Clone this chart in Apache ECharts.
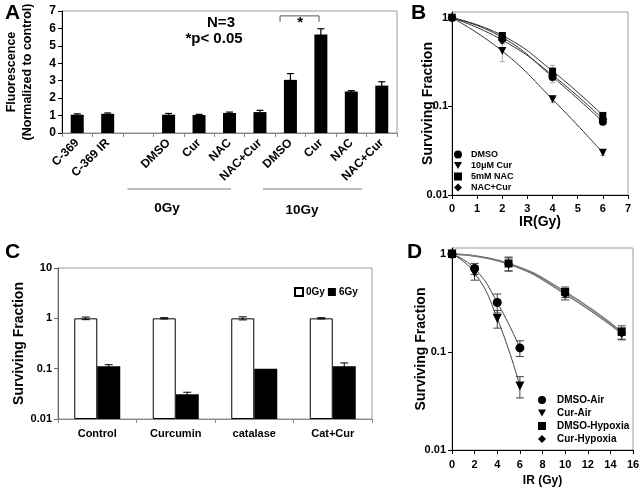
<!DOCTYPE html>
<html><head><meta charset="utf-8">
<script src="https://cdn.jsdelivr.net/npm/echarts@6/dist/echarts.min.js"></script>
<style>html,body{margin:0;padding:0;background:#fff}#c{width:644px;height:491px}</style>
</head><body><div id="c"></div>
<script>
// ---------- Panel A ----------
const aCategories = ['C-369', 'C-369 IR', '', 'DMSO', 'Cur', 'NAC', 'NAC+Cur', 'DMSO', 'Cur', 'NAC', 'NAC+Cur'];
const aValues = [1.05, 1.1, null, 1.05, 1.03, 1.15, 1.2, 3.05, 5.65, 2.38, 2.72];
const aErrors = [0.05, 0.05, null, 0.07, 0.04, 0.05, 0.1, 0.36, 0.33, 0.05, 0.22];
// ---------- Panel B ----------
const bDoses = [0, 2, 4, 6];
const bDMSO = [1, 0.6, 0.215, 0.067];
const bCur = [1, 0.42, 0.12, 0.03];
const bNAC = [1, 0.63, 0.25, 0.079];
const bNACCur = [1, 0.56, 0.225, 0.072];
const bErrDMSO = [0, 0.05, 0.03, 0.005];
const bErrCur = [0, 0.1, 0.01, 0.002];
const bErrNAC = [0, 0.05, 0.04, 0.006];
const bErrNACCur = [0, 0.05, 0.03, 0.005];
// ---------- Panel C ----------
const cCategories = ['Control', 'Curcumin', 'catalase', 'Cat+Cur'];
const c0Gy = [1, 1, 1, 1];
const c0GyErr = [0.06, 0.03, 0.07, 0.03];
const c6Gy = [0.112, 0.031, 0.1, 0.112];
const c6GyErr = [0.008, 0.003, 0, 0.018];
// ---------- Panel D ----------
const dDosesAir = [0, 2, 4, 6];
const dDMSOAir = [1, 0.71, 0.32, 0.11];
const dDMSOAirErr = [0, 0.09, 0.07, 0.02];
const dCurAir = [1, 0.64, 0.22, 0.045];
const dCurAirErr = [0, 0.1, 0.045, 0.011];
const dDosesHyp = [0, 5, 10, 15];
const dDMSOHyp = [1, 0.8, 0.41, 0.16];
const dDMSOHypErr = [0, 0.13, 0.05, 0.025];
const dCurHyp = [1, 0.79, 0.39, 0.155];
const dCurHypErr = [0, 0.12, 0.05, 0.022];

const F = '"Liberation Sans", Arial, sans-serif';
const T = (size) => ({ fontFamily: F, fontWeight: 'bold', fontSize: size, color: '#000' });
const DOWN_TRI = 'path://M0,0L10,0L5,9Z';

function pairs(xs, ys) { return xs.map((x, i) => [x, ys[i]]); }

function errSeries(xi, yi, xs, vals, errs, o) {
  const data = [];
  for (let i = 0; i < vals.length; i++) {
    if (vals[i] == null || !errs[i]) continue;
    data.push([xs ? xs[i] : i, vals[i] - errs[i], vals[i] + errs[i]]);
  }
  return {
    type: 'custom', xAxisIndex: xi, yAxisIndex: yi, z: o.z || 5, silent: true,
    data: data, encode: { x: 0, y: [1, 2] },
    renderItem: function (params, api) {
      const x = api.value(0);
      const top = api.coord([x, api.value(2)]);
      const bot = api.coord([x, api.value(1)]);
      const cx = top[0] + (o.offset || 0);
      const hw = o.cap / 2;
      const style = { stroke: o.color, lineWidth: o.width || 1 };
      return { type: 'group', children: [
        { type: 'line', shape: { x1: cx, y1: top[1], x2: cx, y2: bot[1] }, style: style },
        { type: 'line', shape: { x1: cx - hw, y1: top[1], x2: cx + hw, y2: top[1] }, style: style },
        { type: 'line', shape: { x1: cx - hw, y1: bot[1], x2: cx + hw, y2: bot[1] }, style: style }
      ] };
    }
  };
}

function lineSeries(name, xi, yi, xs, ys, symbol, size, color, width) {
  return {
    name: name, type: 'line', xAxisIndex: xi, yAxisIndex: yi, data: pairs(xs, ys),
    smooth: true, symbol: symbol, symbolSize: size, showSymbol: true, z: 6,
    lineStyle: { color: color, width: width }, itemStyle: { color: '#000' }
  };
}

const frame = { show: true, borderColor: '#999', borderWidth: 1, outerBoundsMode: 'none', containLabel: false };
const C_BAR_W = 23;

const option = {
  animation: false,
  backgroundColor: '#fff',
  textStyle: { fontFamily: F },
  grid: [
    Object.assign({ left: 62, top: 11, width: 335, height: 122 }, frame),
    Object.assign({ left: 452, top: 12, width: 176, height: 183 }, frame),
    Object.assign({ left: 58, top: 268, width: 314, height: 151 }, frame),
    Object.assign({ left: 452, top: 248, width: 181, height: 202 }, frame)
  ],
  legend: [
    { data: [{ name: 'DMSO', icon: 'circle' }, { name: '10μM Cur', icon: DOWN_TRI }, { name: '5mM NAC', icon: 'rect' }, { name: 'NAC+Cur', icon: 'diamond' }],
      orient: 'vertical', left: 454, top: 150, padding: 0, itemWidth: 8, itemHeight: 8, itemGap: 2, selectedMode: false,
      textStyle: Object.assign(T(9), { padding: [0, 0, 0, 4] }) },
    { data: [{ name: '0Gy', icon: 'rect' }, { name: '6Gy', icon: 'rect' }],
      orient: 'horizontal', left: 294, top: 287, padding: 0, itemWidth: 8, itemHeight: 8, itemGap: 3, selectedMode: false,
      textStyle: Object.assign(T(10), { padding: [0, 0, 0, -2] }) },
    { data: [{ name: 'DMSO-Air', icon: 'circle' }, { name: 'Cur-Air', icon: DOWN_TRI }, { name: 'DMSO-Hypoxia', icon: 'rect' }, { name: 'Cur-Hypoxia', icon: 'diamond' }],
      orient: 'vertical', left: 538, top: 395, padding: 0, itemWidth: 8, itemHeight: 8, itemGap: 3, selectedMode: false,
      textStyle: Object.assign(T(10), { padding: [0, 0, 0, 6] }) }
  ],
  xAxis: [
    { gridIndex: 0, type: 'category', data: aCategories,
      axisLine: { lineStyle: { color: '#888' } }, axisTick: { show: true, length: 4, interval: 0, lineStyle: { color: '#888' } },
      axisLabel: Object.assign(T(12), { rotate: 45, interval: 0, margin: 8 }) },
    { gridIndex: 1, type: 'value', min: 0, max: 7, interval: 1,
      axisLine: { show: true, onZero: false, lineStyle: { color: '#000' } }, axisTick: { show: true, length: 4 }, splitLine: { show: false },
      axisLabel: Object.assign(T(11), { margin: 8 }),
      name: 'IR(Gy)', nameLocation: 'middle', nameGap: 20, nameMoveOverlap: false, nameTextStyle: T(14) },
    { gridIndex: 2, type: 'category', data: cCategories,
      axisLine: { lineStyle: { color: '#888' } }, axisTick: { show: true, length: 4, interval: 0, lineStyle: { color: '#888' } },
      axisLabel: Object.assign(T(11), { margin: 9 }) },
    { gridIndex: 3, type: 'value', min: 0, max: 16, interval: 2,
      axisLine: { show: true, onZero: false, lineStyle: { color: '#000' } }, axisTick: { show: true, length: 4 }, splitLine: { show: false },
      axisLabel: Object.assign(T(11), { margin: 9 }),
      name: 'IR (Gy)', nameLocation: 'middle', nameGap: 25, nameMoveOverlap: false, nameTextStyle: T(12) }
  ],
  yAxis: [
    { gridIndex: 0, type: 'value', min: 0, max: 7, interval: 1,
      axisLine: { show: true, lineStyle: { color: '#000' } }, axisTick: { show: true, length: 4 }, splitLine: { show: false },
      axisLabel: Object.assign(T(12), { margin: 6 }),
      name: 'Fluorescence\n(Normalized to control)', nameLocation: 'middle', nameRotate: 90, nameGap: 26, nameMoveOverlap: false,
      nameTextStyle: Object.assign(T(12.5), { lineHeight: 16 }) },
    { gridIndex: 1, type: 'log', logBase: 10, min: 0.01, max: 1.16,
      axisLine: { show: true, lineStyle: { color: '#000' } }, axisTick: { show: true, length: 4 }, splitLine: { show: false }, minorTick: { show: false },
      axisLabel: Object.assign(T(11), { margin: 4, showMaxLabel: false }),
      name: 'Surviving Fraction', nameLocation: 'middle', nameRotate: 90, nameGap: 17, nameMoveOverlap: false, nameTextStyle: T(14) },
    { gridIndex: 2, type: 'log', logBase: 10, min: 0.01, max: 10, startValue: 0.01,
      axisLine: { show: true, lineStyle: { color: '#666' } }, axisTick: { show: true, length: 4 }, splitLine: { show: false },
      axisLabel: Object.assign(T(11), { margin: 6 }),
      name: 'Surviving Fraction', nameLocation: 'middle', nameRotate: 90, nameGap: 32, nameMoveOverlap: false, nameTextStyle: T(14) },
    { gridIndex: 3, type: 'log', logBase: 10, min: 0.01, max: 1.15,
      axisLine: { show: true, lineStyle: { color: '#000' } }, axisTick: { show: true, length: 4 }, splitLine: { show: false },
      axisLabel: Object.assign(T(11), { margin: 6, showMaxLabel: false }),
      name: 'Surviving Fraction', nameLocation: 'middle', nameRotate: 90, nameGap: 24, nameMoveOverlap: false, nameTextStyle: T(14) }
  ],
  series: [
    // A
    { type: 'bar', xAxisIndex: 0, yAxisIndex: 0, data: aValues, barWidth: 13, itemStyle: { color: '#000' }, z: 3 },
    errSeries(0, 0, null, aValues, aErrors, { cap: 7, color: '#000', width: 1.2 }),
    // B
    errSeries(1, 1, bDoses, bDMSO, bErrDMSO, { cap: 5, color: '#aaa' }),
    errSeries(1, 1, bDoses, bCur, bErrCur, { cap: 5, color: '#aaa' }),
    errSeries(1, 1, bDoses, bNAC, bErrNAC, { cap: 5, color: '#aaa' }),
    errSeries(1, 1, bDoses, bNACCur, bErrNACCur, { cap: 5, color: '#aaa' }),
    lineSeries('DMSO', 1, 1, bDoses, bDMSO, 'circle', 8, '#333', 1),
    lineSeries('10μM Cur', 1, 1, bDoses, bCur, DOWN_TRI, 8, '#333', 1),
    lineSeries('5mM NAC', 1, 1, bDoses, bNAC, 'rect', 7, '#333', 1),
    lineSeries('NAC+Cur', 1, 1, bDoses, bNACCur, 'diamond', 9, '#333', 1),
    // C
    { name: '0Gy', type: 'bar', xAxisIndex: 2, yAxisIndex: 2, data: c0Gy, barWidth: C_BAR_W, barGap: '0%',
      itemStyle: { color: '#fff', borderColor: '#000', borderWidth: 1 }, z: 3 },
    { name: '6Gy', type: 'bar', xAxisIndex: 2, yAxisIndex: 2, data: c6Gy, barWidth: C_BAR_W, barGap: '0%',
      itemStyle: { color: '#000' }, z: 3 },
    errSeries(2, 2, null, c0Gy, c0GyErr, { cap: 8, color: '#000', offset: -C_BAR_W / 2 }),
    errSeries(2, 2, null, c6Gy, c6GyErr, { cap: 8, color: '#000', offset: C_BAR_W / 2 }),
    // D
    errSeries(3, 3, dDosesAir, dDMSOAir, dDMSOAirErr, { cap: 8, color: '#444' }),
    errSeries(3, 3, dDosesAir, dCurAir, dCurAirErr, { cap: 8, color: '#444' }),
    errSeries(3, 3, dDosesHyp, dDMSOHyp, dDMSOHypErr, { cap: 8, color: '#444' }),
    errSeries(3, 3, dDosesHyp, dCurHyp, dCurHypErr, { cap: 8, color: '#444' }),
    lineSeries('DMSO-Air', 3, 3, dDosesAir, dDMSOAir, 'circle', 9, '#444', 1),
    lineSeries('Cur-Air', 3, 3, dDosesAir, dCurAir, DOWN_TRI, 9, '#444', 1),
    lineSeries('DMSO-Hypoxia', 3, 3, dDosesHyp, dDMSOHyp, 'rect', 8, '#777', 1.5),
    lineSeries('Cur-Hypoxia', 3, 3, dDosesHyp, dCurHyp, 'diamond', 9, '#777', 1.5)
  ],
  graphic: [
    { type: 'text', left: 5, top: 3, style: { text: 'A', fill: '#000', font: 'bold 21px ' + F } },
    { type: 'text', left: 411, top: 3, style: { text: 'B', fill: '#000', font: 'bold 21px ' + F } },
    { type: 'text', left: 5, top: 242, style: { text: 'C', fill: '#000', font: 'bold 21px ' + F } },
    { type: 'text', left: 407, top: 242, style: { text: 'D', fill: '#000', font: 'bold 21px ' + F } }
  ]
};

const chart = echarts.init(document.getElementById('c'), null, { renderer: 'canvas' });
chart.setOption(option);

// Annotations in panel A placed through the axes (fractional category positions interpolated)
function px(idx, val) {
  const i0 = Math.floor(idx), f = idx - i0;
  const p0 = chart.convertToPixel({ xAxisIndex: 0, yAxisIndex: 0 }, [i0, val]);
  const p1 = chart.convertToPixel({ xAxisIndex: 0, yAxisIndex: 0 }, [i0 + 1, val]);
  return [p0[0] + f * (p1[0] - p0[0]), p0[1]];
}
const g0a = px(1.65, 0), g0b = px(5.05, 0), g1a = px(6.1, 0), g1b = px(9.35, 0);
const brL = px(6.66, 6.72), brR = px(7.94, 6.72), brLow = px(6.66, 6.38), star = px(7.32, 6.3);
const groupY = g0a[1] + 56;
const txt = (x, y, s, size) => ({ type: 'text', x: x, y: y, style: { text: s, fill: '#000', font: 'bold ' + size + 'px ' + F, textAlign: 'center', textVerticalAlign: 'middle' } });
chart.setOption({ graphic: option.graphic.concat([
  { type: 'line', shape: { x1: g0a[0], y1: groupY, x2: g0b[0], y2: groupY }, style: { stroke: '#777', lineWidth: 1 } },
  { type: 'line', shape: { x1: g1a[0], y1: groupY, x2: g1b[0], y2: groupY }, style: { stroke: '#777', lineWidth: 1 } },
  txt(167, groupY + 19, '0Gy', 13.5),
  txt(302, groupY + 21, '10Gy', 13.5),
  { type: 'polyline', shape: { points: [[brL[0], brLow[1]], [brL[0], brL[1]], [brR[0], brR[1]], [brR[0], brLow[1]]] }, style: { stroke: '#555', lineWidth: 1, fill: null } },
  txt(star[0], star[1], '*', 15),
  txt(221, 23, 'N=3', 15),
  txt(214, 39, '*p< 0.05', 15)
]) });
</script>
</body></html>
